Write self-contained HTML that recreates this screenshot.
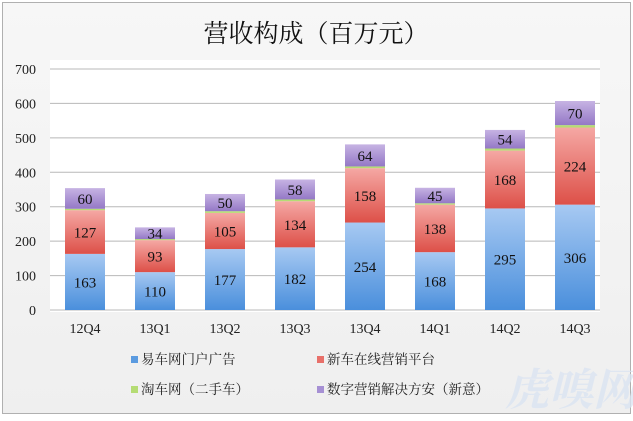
<!DOCTYPE html>
<html><head><meta charset="utf-8"><style>
html,body{margin:0;padding:0;}
body{width:633px;height:416px;overflow:hidden;background:#fff;}
svg text{font-family:"Liberation Serif","Noto Serif CJK SC",serif;}
</style></head><body>
<svg id="c" width="633" height="416" viewBox="0 0 633 416" xmlns="http://www.w3.org/2000/svg">
<defs>
<linearGradient id="bg" x1="0" y1="0" x2="0" y2="1"><stop offset="0" stop-color="#f7f7f7"/><stop offset="1" stop-color="#efefef"/></linearGradient>
<linearGradient id="gb" x1="0" y1="0" x2="0" y2="1"><stop offset="0" stop-color="#a7c9f2"/><stop offset="1" stop-color="#4a8fdc"/></linearGradient>
<linearGradient id="gr" x1="0" y1="0" x2="0" y2="1"><stop offset="0" stop-color="#f5a8a4"/><stop offset="1" stop-color="#dd5048"/></linearGradient>
<linearGradient id="gp" x1="0" y1="0" x2="0" y2="1"><stop offset="0" stop-color="#c6b3e3"/><stop offset="1" stop-color="#9478c6"/></linearGradient>
</defs>
<rect x="2.5" y="2.5" width="628" height="411" fill="url(#bg)" stroke="#b0b0b0"/>
<rect x="50" y="60" width="550" height="252" fill="#fff"/>
<text x="316" y="42" text-anchor="middle" font-size="25" font-family="Noto Sans CJK SC,sans-serif" fill="#111">营收构成（百万元）</text>
<g id="g"></g>
<text x="505" y="405" font-size="44" font-style="italic" font-weight="bold" fill="#dbe4f2" font-family="Noto Sans CJK SC,sans-serif" opacity="0.8">虎嗅网</text>
<g font-size="13.5" fill="#222" font-family="Noto Sans CJK SC,sans-serif">
<rect x="131" y="356" width="7" height="7" fill="#5b9be0"/><text x="141" y="364">易车网门户广告</text>
<rect x="317" y="356" width="7" height="7" fill="#e8706a"/><text x="327" y="364">新车在线营销平台</text>
<rect x="131" y="386" width="7" height="7" fill="#b5dc74"/><text x="141" y="394">淘车网（二手车）</text>
<rect x="317" y="386" width="7" height="7" fill="#a690d4"/><text x="327" y="394">数字营销解决方安（新意）</text>
</g>
</svg>
<script>
var g=document.getElementById('g'),h='';
function Y(v){return 310-v*0.3443;}
for(var i=0;i<=7;i++){var y=Y(i*100);h+='<line x1="50" x2="600" y1="'+y+'" y2="'+y+'" stroke="#b8b8b8" stroke-width="1"/>';
h+='<text x="36" y="'+(y+5)+'" text-anchor="end" font-size="14" fill="#222">'+(i*100)+'</text>';}
var d=[["12Q4",163,127,4,60],["13Q1",110,93,3,34],["13Q2",177,105,5,50],["13Q3",182,134,5,58],["13Q4",254,158,5,64],["14Q1",168,138,4,45],["14Q2",295,168,6,54],["14Q3",306,224,7,70]];
var f=["url(#gb)","url(#gr)","#b5dc74","url(#gp)"];
d.forEach(function(r,k){var cx=85+k*70,base=0;
for(var j=0;j<4;j++){var v=r[j+1],y1=Y(base+v),y0=Y(base);
h+='<rect x="'+(cx-20)+'" y="'+y1+'" width="40" height="'+(y0-y1)+'" fill="'+f[j]+'"/>';
if(j!=2)h+='<text x="'+cx+'" y="'+((y0+y1)/2+5.5)+'" text-anchor="middle" font-size="15" fill="#111">'+v+'</text>';
base+=v;}
h+='<text x="'+cx+'" y="333" text-anchor="middle" font-size="14" fill="#222">'+r[0]+'</text>';});
g.innerHTML=h;
</script>
</body></html>
